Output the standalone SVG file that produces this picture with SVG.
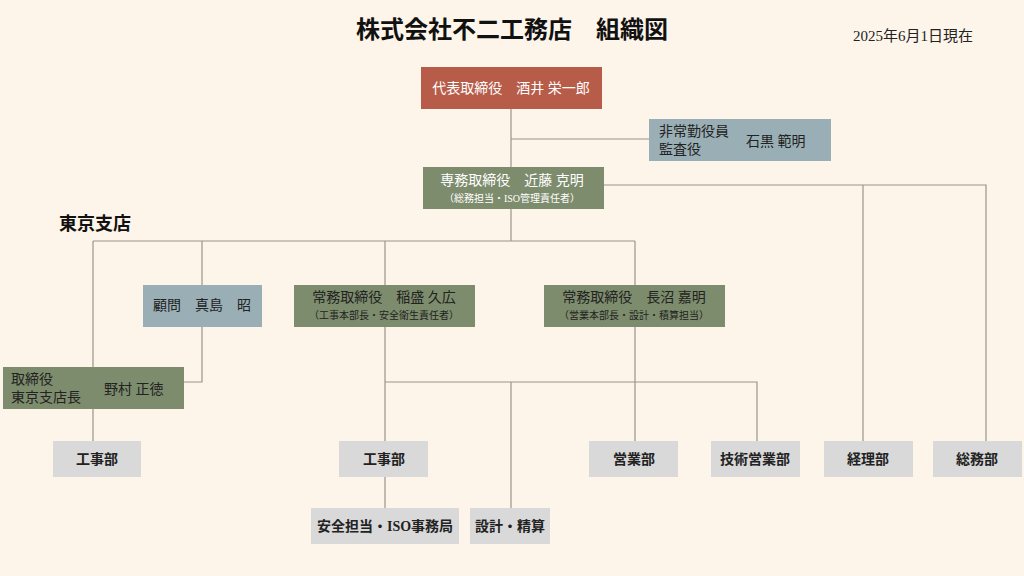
<svg xmlns="http://www.w3.org/2000/svg" width="1024" height="576" viewBox="0 0 1024 576">
<style>
text{font-family:"Liberation Serif","Noto Sans CJK JP",serif}
.w{fill:#fff;font-size:14px}
.k{fill:#222;font-size:14px}
.s{font-size:10px}
.g{fill:#7d8c6c}
.b{fill:#9aafb5}
.r{fill:#b85c4a}
.d{fill:#d9d9d9}
.c path{fill:none;stroke:#9a948c;stroke-width:1.2}
</style>
<rect width="1024" height="576" fill="#fdf5ea"/>
<text x="512" y="38" text-anchor="middle" font-size="24" font-weight="bold" fill="#111">株式会社不二工務店　組織図</text>
<text x="913" y="41" text-anchor="middle" font-size="15" fill="#222">2025年6月1日現在</text>
<text x="95" y="230" text-anchor="middle" font-size="18" font-weight="bold" fill="#111">東京支店</text>
<g class="c">
<path d="M511 109V167M511 139H649M604 185H986V441M863 185V441M511 209V241M93 241H635M93 241V367M202 241V285M385 241V285M635 241V285M202 327V382H184M93 409V441M385 327V441M385 382H757V441M511 382V508M635 327V441M385 477V508"/>
</g>
<g id="ceo"><rect class="r" x="421" y="67" width="181" height="42"/><text class="w" x="511" y="93" text-anchor="middle">代表取締役　酒井 栄一郎</text></g>
<g id="auditor"><rect class="b" x="649" y="119" width="182" height="42"/><text class="k" x="659" y="136">非常勤役員</text><text class="k" x="659" y="154">監査役</text><text class="k" x="746" y="146">石黒 範明</text></g>
<g id="senmu"><rect class="g" x="423" y="167" width="181" height="42"/><text class="w" x="512" y="185" text-anchor="middle">専務取締役　近藤 克明</text><text class="w s" x="512" y="202" text-anchor="middle">（総務担当・ISO管理責任者）</text></g>
<g id="komon"><rect class="b" x="143" y="285" width="119" height="42"/><text class="k" x="202" y="310" text-anchor="middle">顧問　真島　昭</text></g>
<g id="joumu1"><rect class="g" x="294" y="285" width="181" height="42"/><text class="k" x="384" y="302" text-anchor="middle">常務取締役　稲盛 久広</text><text class="k s" x="384" y="319" text-anchor="middle">（工事本部長・安全衛生責任者）</text></g>
<g id="joumu2"><rect class="g" x="544" y="285" width="181" height="42"/><text class="k" x="634" y="302" text-anchor="middle">常務取締役　長沼 嘉明</text><text class="k s" x="634" y="319" text-anchor="middle">（営業本部長・設計・積算担当）</text></g>
<g id="branch"><rect class="g" x="3" y="367" width="181" height="42"/><text class="k" x="11" y="384">取締役</text><text class="k" x="11" y="402">東京支店長</text><text class="k" x="104" y="394">野村 正徳</text></g>
<g id="koji1"><rect class="d" x="53" y="441" width="88" height="36"/><text class="k" x="97" y="464" text-anchor="middle" font-weight="bold">工事部</text></g>
<g id="koji2"><rect class="d" x="339" y="441" width="89" height="36"/><text class="k" x="384" y="464" text-anchor="middle" font-weight="bold">工事部</text></g>
<g id="eigyo"><rect class="d" x="589" y="441" width="89" height="36"/><text class="k" x="634" y="464" text-anchor="middle" font-weight="bold">営業部</text></g>
<g id="gijutsu"><rect class="d" x="711" y="441" width="89" height="36"/><text class="k" x="755" y="464" text-anchor="middle" font-weight="bold">技術営業部</text></g>
<g id="keiri"><rect class="d" x="824" y="441" width="89" height="36"/><text class="k" x="868" y="464" text-anchor="middle" font-weight="bold">経理部</text></g>
<g id="somu"><rect class="d" x="933" y="441" width="89" height="36"/><text class="k" x="977" y="464" text-anchor="middle" font-weight="bold">総務部</text></g>
<g id="anzen"><rect class="d" x="311" y="508" width="148" height="36"/><text class="k" x="385" y="531" text-anchor="middle" font-weight="bold">安全担当・ISO事務局</text></g>
<g id="sekkei"><rect class="d" x="470" y="508" width="80" height="36"/><text class="k" x="510" y="531" text-anchor="middle" font-weight="bold">設計・精算</text></g>
</svg>
